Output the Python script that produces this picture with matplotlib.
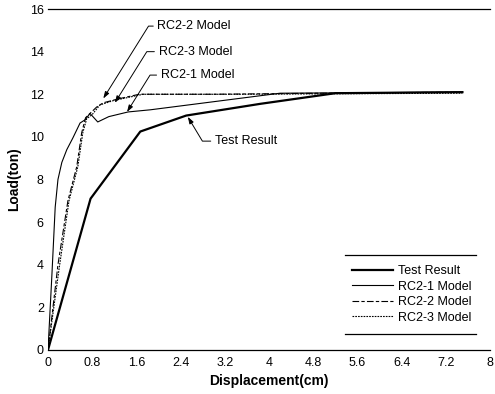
import matplotlib
matplotlib.use("Agg")
import matplotlib.pyplot as plt

plt.rcParams["font.family"] = ["Liberation Sans", "DejaVu Sans"]

# load-displacement curves
test_x = [0, 0.77, 1.67, 2.5, 3.84, 5.2, 7.5]
test_y = [0, 7.1, 10.25, 11.0, 11.55, 12.05, 12.1]

rc21_x = [0, 0.07, 0.13, 0.18, 0.25, 0.34, 0.45, 0.58, 0.67, 0.76, 0.9, 1.1, 1.45, 1.85, 4.2, 7.5]
rc21_y = [0, 3.5, 6.7, 8.0, 8.8, 9.4, 9.95, 10.65, 10.8, 11.1, 10.7, 10.95, 11.17, 11.27, 12.05, 12.1]

rc22_x = [0, 0.18, 0.36, 0.52, 0.61, 0.68, 0.76, 0.88, 1.0, 1.3, 1.65, 3.0, 5.0, 7.5]
rc22_y = [0, 4.0, 7.0, 8.6, 10.2, 10.9, 11.1, 11.4, 11.6, 11.8, 12.0, 12.0, 12.05, 12.1]

rc23_x = [0, 0.2, 0.38, 0.54, 0.63, 0.7, 0.8, 0.94, 1.18, 1.72, 3.5, 7.5]
rc23_y = [0, 3.8, 7.0, 8.6, 10.2, 10.85, 11.05, 11.5, 11.7, 12.0, 12.0, 12.05]

xticks = [0, 0.8, 1.6, 2.4, 3.2, 4, 4.8, 5.6, 6.4, 7.2, 8]
xtick_labels = ["0", "0.8", "1.6", "2.4", "3.2", "4", "4.8", "5.6", "6.4", "7.2", "8"]
yticks = [0, 2, 4, 6, 8, 10, 12, 14, 16]

# (label, text position, arrow tip, leader angle at tip)
notes = [
    ("RC2-2 Model", (1.98, 15.2), (1.0, 11.8), 58),
    ("RC2-3 Model", (2.0, 14.0), (1.21, 11.6), 58),
    ("RC2-1 Model", (2.04, 12.9), (1.43, 11.17), 58),
    ("Test Result", (3.02, 9.8), (2.53, 10.94), 121),
]


def main() -> None:
    fig = plt.figure(figsize=(4.95, 3.94), dpi=100)
    ax = fig.add_axes([0.097, 0.112, 0.893, 0.865])

    ax.plot(test_x, test_y, color="black", lw=1.6, label="Test Result")
    ax.plot(rc21_x, rc21_y, color="black", lw=0.8, label="RC2-1 Model")
    ax.plot(rc22_x, rc22_y, color="black", lw=0.8, ls=(0, (6, 2, 3, 2)), label="RC2-2 Model")
    ax.plot(rc23_x, rc23_y, color="black", lw=0.8, ls=(0, (1.5, 1)), label="RC2-3 Model")

    ax.set_xlim(0, 8)
    ax.set_ylim(0, 16)
    ax.set_xticks(xticks)
    ax.set_xticklabels(xtick_labels)
    ax.set_yticks(yticks)
    ax.tick_params(length=0, labelsize=9)
    ax.tick_params(axis="y", pad=3)
    ax.tick_params(axis="x", pad=5)
    for side in ("left", "right"):
        ax.spines[side].set_visible(False)
    for side in ("top", "bottom"):
        ax.spines[side].set_linewidth(0.9)

    ax.set_xlabel("Displacement(cm)", fontsize=10, fontweight="bold", labelpad=4)
    ax.set_ylabel("Load(ton)", fontsize=10, fontweight="bold", labelpad=6)

    for label, xytext, xy, ang in notes:
        ax.annotate(
            label, xy=xy, xytext=xytext, fontsize=9, ha="left", va="center",
            arrowprops=dict(
                arrowstyle="-|>,head_length=0.45,head_width=0.15",
                connectionstyle=f"angle,angleA=0,angleB={ang},rad=0",
                color="black", lw=0.7, shrinkA=1, shrinkB=0,
            ),
        )

    leg = ax.legend(
        loc="lower right", bbox_to_anchor=(0.972, 0.058), frameon=False,
        fontsize=9, handlelength=3.3, labelspacing=0.28, handletextpad=0.4,
        borderpad=0.0,
    )
    fig.canvas.draw()
    bb = leg.get_window_extent()
    inv = ax.transAxes.inverted()
    (x0, y0), (x1, y1) = inv.transform([(bb.x0 - 7, bb.y0 - 10), (bb.x1 + 5, bb.y1 + 10)])
    for yy in (y0, y1):
        ax.plot([x0, x1], [yy, yy], color="black", lw=0.9,
                transform=ax.transAxes, clip_on=False)

    fig.savefig("out.png", dpi=100)
    plt.close(fig)


if __name__ == "__main__":
    main()
